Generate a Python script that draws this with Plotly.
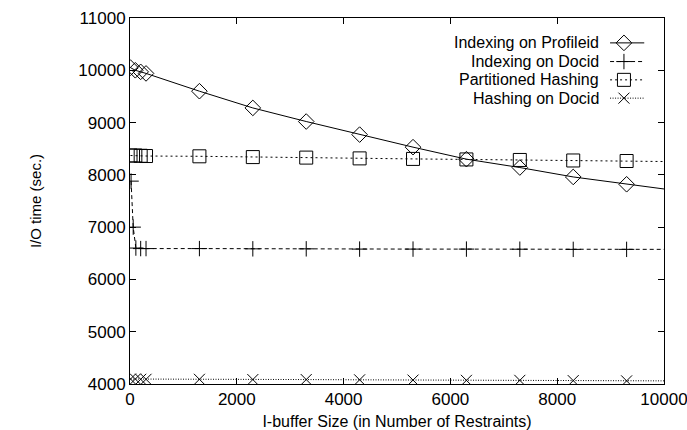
import plotly.graph_objects as go

# Data
x_small = [10, 100, 200, 300]
x_big = [1300, 2300, 3300, 4300, 5300, 6300, 7300, 8300, 9300]

prof_x = x_small + x_big + [10000]
prof_y = [10050, 10000, 9970, 9940, 9600, 9280, 9020, 8770, 8530, 8300, 8140, 7960, 7820, 7730]

docid_x = [20, 60, 110, 200, 300] + x_big + [10000]
docid_y = [7880, 7000, 6600, 6590, 6590, 6590, 6585, 6585, 6580, 6580, 6580, 6578, 6575, 6575, 6575]

part_x = x_small + x_big + [10000]
part_y = [8370, 8370, 8365, 8360, 8355, 8340, 8330, 8315, 8305, 8295, 8285, 8275, 8265, 8255]

hash_x = x_small + x_big + [10000]
hash_y = [4095, 4095, 4090, 4090, 4090, 4085, 4085, 4080, 4075, 4070, 4070, 4065, 4060, 4060]

names = ["Indexing on Profileid", "Indexing on Docid", "Partitioned Hashing", "Hashing on Docid"]
xs = [prof_x, docid_x, part_x, hash_x]
ys = [prof_y, docid_y, part_y, hash_y]
symbols = ["diamond-open", "cross-thin-open", "square-open", "x-thin-open"]
sizes = [12, 11, 13, 11]
dashes = ["solid", "4px,3px", "2px,3px", "1px,1.5px"]
# markers not on the extension point at x=10000
marker_mask = [[True] * (len(x) - 1) + [False] for x in xs]

fig = go.Figure()
FONT = "Liberation Sans, Arial, sans-serif"

for i in range(4):
    fig.add_trace(go.Scatter(x=xs[i], y=ys[i], mode="lines",
                             line=dict(color="black", width=1, dash=dashes[i]),
                             showlegend=False, hoverinfo="skip"))
    mx = [v for v, m in zip(xs[i], marker_mask[i]) if m]
    my = [v for v, m in zip(ys[i], marker_mask[i]) if m]
    fig.add_trace(go.Scatter(x=mx, y=my, mode="markers",
                             marker=dict(symbol=symbols[i], size=sizes[i], color="black",
                                         line=dict(color="black", width=1)),
                             showlegend=False))

# Custom legend (sample to the right of the text) on an overlay axis in fraction units
leg_rows = [0.932, 0.881, 0.831, 0.781]
for i in range(4):
    fig.add_trace(go.Scatter(x=[0.899, 0.963], y=[leg_rows[i]] * 2, mode="lines",
                             xaxis="x2", yaxis="y2",
                             line=dict(color="black", width=1, dash=dashes[i]),
                             showlegend=False, hoverinfo="skip"))
    fig.add_trace(go.Scatter(x=[0.925], y=[leg_rows[i]], mode="markers",
                             xaxis="x2", yaxis="y2",
                             marker=dict(symbol=symbols[i], size=sizes[i], color="black",
                                         line=dict(color="black", width=1)),
                             showlegend=False, hoverinfo="skip"))
    fig.add_annotation(x=0.882, y=leg_rows[i], xref="x2", yref="y2", text=names[i],
                       showarrow=False, xanchor="right", yanchor="middle",
                       font=dict(family=FONT, size=16, color="black"))

fig.update_layout(
    width=687, height=430,
    margin=dict(l=130, r=23, t=18, b=46),
    paper_bgcolor="white", plot_bgcolor="white",
    font=dict(family=FONT, size=16, color="black"),
    xaxis=dict(range=[0, 10000], tickvals=[0, 2000, 4000, 6000, 8000, 10000],
               tickformat="d", automargin=False, ticklabeloverflow="allow",
               ticks="inside", ticklen=6, tickcolor="black", showgrid=False, zeroline=False,
               showline=True, linecolor="black", linewidth=1, mirror="allticks",
               title=dict(text="I-buffer Size (in Number of Restraints)", standoff=9,
                          font=dict(size=16)),
               tickfont=dict(size=17)),
    yaxis=dict(range=[4000, 11000], dtick=1000, tickformat="d", automargin=False,
               ticks="inside", ticklen=6, tickcolor="black",
               showgrid=False, zeroline=False, showline=True, linecolor="black", linewidth=1,
               mirror="allticks", title=dict(text="I/O time (sec.)", standoff=33,
                                             font=dict(size=15)),
               tickfont=dict(size=17)),
    xaxis2=dict(range=[0, 1], overlaying="x", visible=False, fixedrange=True),
    yaxis2=dict(range=[0, 1], overlaying="y", visible=False, fixedrange=True),
)

fig.write_html("out.html")
